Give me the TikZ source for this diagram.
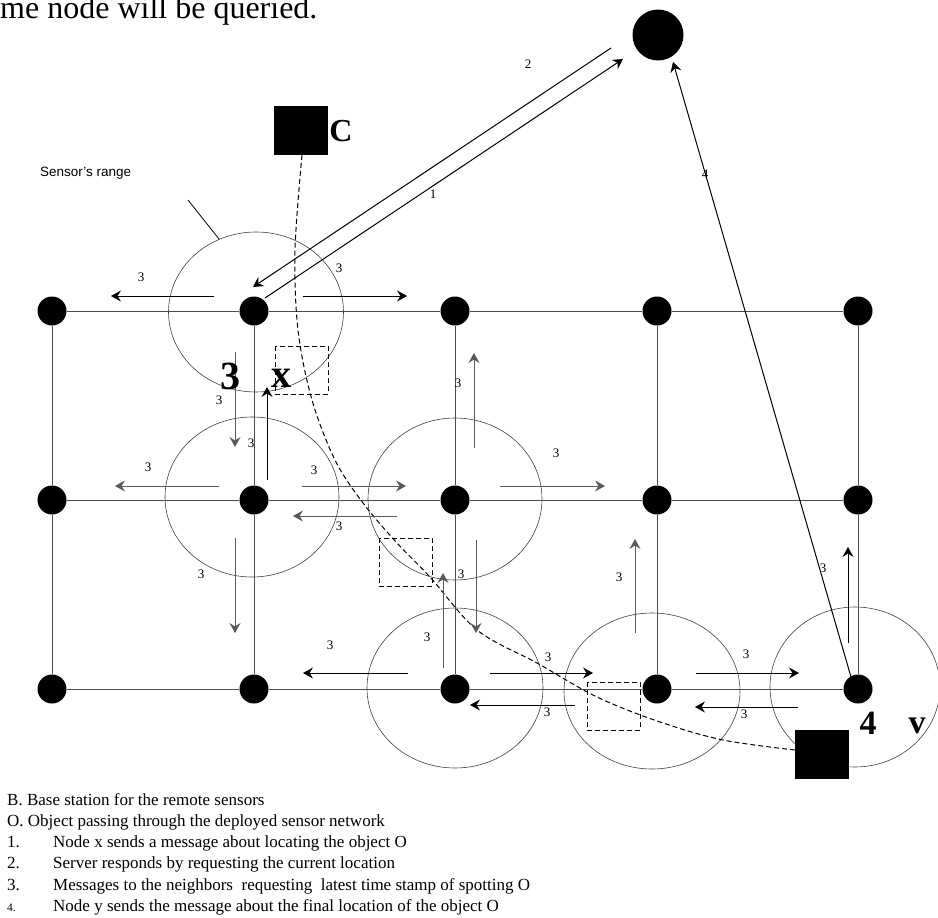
\documentclass[tikz,border=0pt]{standalone}
\usepackage{fontspec}
\setmainfont{Liberation Serif}
\setsansfont{Liberation Sans}
\usetikzlibrary{arrows.meta}
\begin{document}
\begin{tikzpicture}[x=1pt,y=-1pt,
  sensordot/.style={circle,fill=black,minimum size=29pt,inner sep=0pt},
  serverdot/.style={circle,fill=black,minimum size=51pt,inner sep=0pt},
  objbox/.style={rectangle,fill=black,inner sep=0pt,minimum width=54pt,minimum height=49pt},
  gridline/.style={draw=black!70,line width=1pt},
  sensrange/.style={draw=black!75,line width=0.6pt},
  msgarrow/.style={draw=black,line width=1pt,-{Stealth[length=10pt,width=11pt,inset=3.5pt]}},
  gmsgarrow/.style={draw=black!65,line width=1pt,-{Stealth[length=10pt,width=11pt,inset=3.5pt]}},
  smalllab/.style={font=\fontsize{13}{13}\selectfont,inner sep=0pt},
  biglab/.style={font=\fontsize{40}{40}\selectfont\bfseries,inner sep=0pt},
  trackline/.style={draw=black,line width=1pt,dash pattern=on 5pt off 3pt},
  spotbox/.style={draw=black,line width=1pt,dash pattern=on 5pt off 3pt},
  legendtext/.style={font=\fontsize{17}{17}\selectfont,anchor=base west,inner sep=0pt}]
\useasboundingbox (0,0) rectangle (938,918);

% sensor ranges
\draw[sensrange] (256,312) ellipse [x radius=87.5pt, y radius=80pt];
\draw[sensrange] (252,497) ellipse [x radius=87pt, y radius=80pt];
\draw[sensrange] (455,499) ellipse [x radius=87pt, y radius=81pt];
\draw[sensrange] (455,688) ellipse [x radius=88pt, y radius=80pt];
\draw[sensrange] (652,691) ellipse [x radius=88pt, y radius=78pt];
\draw[sensrange] (855,687) ellipse [x radius=85pt, y radius=80pt];

% grid nodes
\foreach \c/\x in {1/52,2/254,3/455,4/657,5/858}{
  \foreach \r/\y in {1/311,2/500,3/689}{
    \node[sensordot] (n\r\c) at (\x,\y) {};
  }
}
\foreach \r in {1,2,3}{
  \draw[gridline] (n\r1) -- (n\r2) -- (n\r3) -- (n\r4) -- (n\r5);
}
\foreach \c in {1,2,3,4,5}{
  \draw[gridline] (n1\c) -- (n2\c) -- (n3\c);
}

% server
\node[serverdot] (srv) at (658,35) {};

% object positions
\node[objbox] (objC) at (301,130.5) {};
\node[objbox] (objV) at (821.5,754) {};
\draw[trackline] plot[smooth,tension=0.55] coordinates {(302,155) (295,250) (298,330) (312,400) (335,460) (363,503) (397,543) (430,577) (477,630) (537,663) (597,697) (660,722) (723,740) (795,750)};
\draw[spotbox] (275,346) rectangle (328,394);
\draw[spotbox] (379,538) rectangle (432,586);
\draw[spotbox] (587,682) rectangle (640,730);

% leader for sensor's range
\coordinate (rl1) at (188,200);
\coordinate (rl2) at (219,239);
\draw[line width=0.8pt] (rl1) -- (rl2);
\node[font=\sffamily\fontsize{13.5}{13.5}\selectfont,anchor=west,inner sep=0pt] (rangelab) at (40,173) {Sensor's range};

% messages 1,2,4
\coordinate (m1s) at (265,298);
\coordinate (m1e) at (623,59);
\coordinate (m2s) at (611,48);
\coordinate (m2e) at (253,287);
\coordinate (m4s) at (851,677);
\coordinate (m4e) at (673,62);
\draw[msgarrow] (m1s) -- (m1e);
\draw[msgarrow] (m2s) -- (m2e);
\draw[msgarrow] (m4s) -- (m4e);
\node[smalllab] at (433,194) {1};
\node[smalllab] at (528,64) {2};
\node[smalllab] at (705,174) {4};

% messages 3
\draw[msgarrow] (214,296) -- (111,296);  \node[smalllab] at (141,277) {3};
\draw[msgarrow] (303,296) -- (407,296);  \node[smalllab] at (339,268) {3};
\draw[gmsgarrow] (235,352) -- (235,447); \node[smalllab] at (219,400) {3};
\draw[msgarrow] (267,480) -- (267,387);  \node[smalllab] at (251,443) {3};

\draw[gmsgarrow] (219,486) -- (115,486); \node[smalllab] at (148,467) {3};
\draw[gmsgarrow] (302,486) -- (406,486); \node[smalllab] at (314,470) {3};
\draw[gmsgarrow] (235,538) -- (235,633); \node[smalllab] at (201,574) {3};
\draw[gmsgarrow] (397,516) -- (293,516); \node[smalllab] at (339,526) {3};

\draw[gmsgarrow] (474,448) -- (474,353); \node[smalllab] at (458,383) {3};
\draw[gmsgarrow] (500,486) -- (605,486); \node[smalllab] at (556,453) {3};
\draw[gmsgarrow] (476,540) -- (476,633); \node[smalllab] at (461,574) {3};
\draw[gmsgarrow] (443,668) -- (443,573); \node[smalllab] at (427,637) {3};

\draw[msgarrow] (408,673) -- (303,673);  \node[smalllab] at (330,645) {3};
\draw[msgarrow] (490,673) -- (593,673);  \node[smalllab] at (548,657) {3};
\draw[msgarrow] (575,705) -- (470,705);  \node[smalllab] at (547,712) {3};

\draw[gmsgarrow] (635,633) -- (635,539); \node[smalllab] at (619,577) {3};
\draw[msgarrow] (696,673) -- (799,673);  \node[smalllab] at (746,654) {3};
\draw[msgarrow] (798,707) -- (695,707);  \node[smalllab] at (744,714) {3};
\draw[msgarrow] (848,643) -- (848,547);  \node[smalllab] at (823,568) {3};

% big labels
\node[biglab] at (230,376) {3};
\node[biglab] at (281,378) {x};
\node[font=\fontsize{32}{32}\selectfont\bfseries,inner sep=0pt] at (341,131) {C};
\node[font=\fontsize{34}{34}\selectfont\bfseries,inner sep=0pt] at (868,723) {4};
\node[font=\fontsize{34}{34}\selectfont\bfseries,inner sep=0pt] at (917,726) {v};

% top text
\node[font=\fontsize{32}{32}\selectfont,anchor=base west,inner sep=0pt] at (0,18) {me node will be queried.};

% legend
\node[legendtext] at (7,805) {B. Base station for the remote sensors};
\node[legendtext] at (7,826) {O. Object passing through the deployed sensor network};
\node[legendtext] at (7,847) {1.};
\node[legendtext] at (53,847) {Node x sends a message about locating the object O};
\node[legendtext] at (7,868) {2.};
\node[legendtext] at (53,868) {Server responds by requesting the current location};
\node[legendtext] at (7,890) {3.};
\node[legendtext] at (53,890) {Messages to the neighbors\ \ requesting\ \ latest time stamp of spotting O};
\node[legendtext,font=\fontsize{11.5}{11.5}\selectfont] at (7,911) {4.};
\node[legendtext] at (53,911) {Node y sends the message about the final location of the object O};
\end{tikzpicture}
\end{document}
